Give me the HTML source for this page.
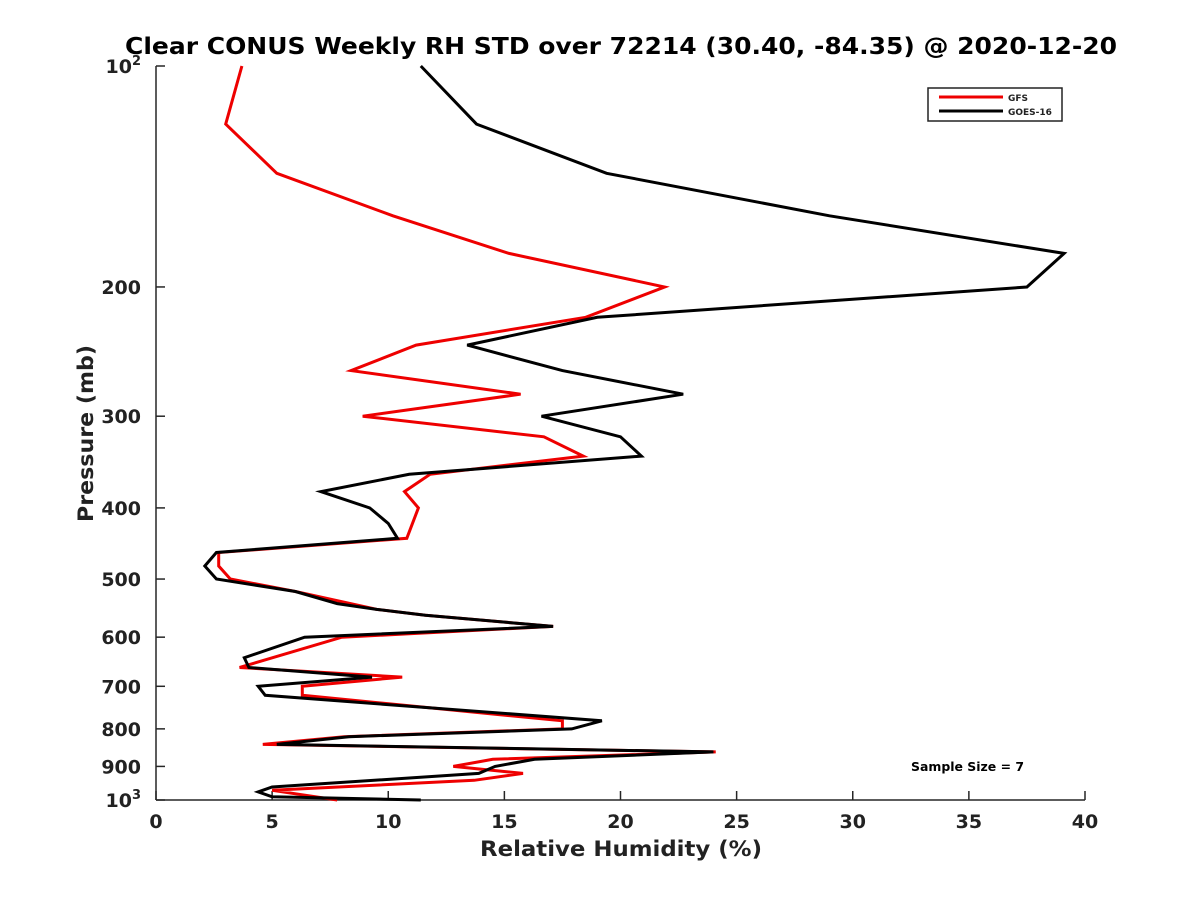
<!DOCTYPE html>
<html><head><meta charset="utf-8"><style>
body{margin:0;background:#fff}
svg text{font-family:"DejaVu Sans","Liberation Sans",sans-serif;font-weight:bold;fill:#222}
</style></head><body>
<svg id="chart" width="1200" height="900" viewBox="0 0 1200 900" xmlns="http://www.w3.org/2000/svg">
<rect width="1200" height="900" fill="#fff"/>
<text x="125" y="54" font-size="23" textLength="992" lengthAdjust="spacingAndGlyphs" style="fill:#000">Clear CONUS Weekly RH STD over 72214 (30.40, -84.35) @ 2020-12-20</text>
<g id="axes"></g>
<g id="series"></g>
<g>
<rect x="928" y="88" width="134" height="33" fill="#fff" stroke="#222" stroke-width="1.5"/>
<line x1="939" y1="97" x2="1003" y2="97" stroke="#e00" stroke-width="3"/>
<text x="1008" y="101" font-size="9">GFS</text>
<line x1="939" y1="111" x2="1003" y2="111" stroke="#000" stroke-width="3"/>
<text x="1008" y="115" font-size="9">GOES-16</text>
</g>
<text x="911" y="771" font-size="12" textLength="113" lengthAdjust="spacingAndGlyphs" style="fill:#000">Sample Size = 7</text>
<text x="480" y="856" font-size="21" textLength="282" lengthAdjust="spacingAndGlyphs">Relative Humidity (%)</text>
<text transform="translate(93,522) rotate(-90)" font-size="21" textLength="177" lengthAdjust="spacingAndGlyphs">Pressure (mb)</text>
</svg>
<script>
const xTicks=[0,5,10,15,20,25,30,35,40];
const yTicks=[200,300,400,500,600,700,800,900];
const gfsP=[100,120,140,160,180,200,220,240,260,280,300,320,340,360,380,400,440,460,480,500,520,550,560,580,600,660,680,700,720,780,800,820,840,860,880,900,920,940,970,1000];
const gfsRH=[3.7,3.0,5.2,10.2,15.2,21.9,18.5,11.2,8.4,15.7,8.9,16.7,18.4,11.8,10.7,11.3,10.8,2.7,2.7,3.2,6.0,9.5,11.6,17.1,8.0,3.6,10.6,6.3,6.3,17.5,17.5,8.1,4.6,24.1,14.5,12.8,15.8,13.7,5.0,7.8];
const goesP=[100,120,140,160,180,200,220,240,260,280,300,320,340,360,380,400,420,440,460,480,500,520,540,550,560,580,600,640,660,680,700,720,780,800,820,840,860,880,900,920,960,975,990,1000];
const goesRH=[11.4,13.8,19.4,29.0,39.1,37.5,19.0,13.4,17.5,22.7,16.6,20.0,20.9,10.9,7.1,9.2,10.0,10.4,2.6,2.1,2.6,6.0,7.8,9.5,11.6,17.1,6.4,3.8,4.0,9.3,4.4,4.7,19.2,17.9,8.3,5.2,24.0,16.3,14.6,13.9,5.0,4.4,5.0,11.4];
const X0=156,X1=1085,Y0=66,Y1=800;
const xs=v=>X0+(v-0)/40*(X1-X0);
const ys=p=>Y0+(Math.log10(p)-2)*(Y1-Y0);
const NS='http://www.w3.org/2000/svg';
function mk(t,a,parent){const e=document.createElementNS(NS,t);for(const k in a)e.setAttribute(k,a[k]);parent.appendChild(e);return e;}
const ax=document.getElementById('axes');
const yl=mk('line',{x1:X0,y1:Y0,x2:X0,y2:Y1,stroke:'#262626','stroke-width':1.5},ax);


const xl=mk('line',{x1:X0,y1:Y1,x2:X1,y2:Y1,stroke:'#262626','stroke-width':1.5},ax);


xTicks.forEach(v=>{const x=xs(v);
mk('line',{x1:x,y1:Y1,x2:x,y2:Y1-9,stroke:'#262626','stroke-width':1.5},ax);
const t=mk('text',{x:x,y:828,'text-anchor':'middle','font-size':19},ax);t.textContent=v;

});
[100,1000].concat(yTicks).forEach(p=>{const y=ys(p);
mk('line',{x1:X0,y1:y,x2:X0+9,y2:y,stroke:'#262626','stroke-width':1.5},ax);
const t=mk('text',{x:141,y:y+7,'text-anchor':'end','font-size':19},ax);
if(p===100){t.innerHTML='10<tspan dy="-8" font-size="13">2</tspan>';}
else if(p===1000){t.innerHTML='10<tspan dy="-8" font-size="13">3</tspan>';}
else t.textContent=p;

});
const sg=document.getElementById('series');
function line(P,V,c,name){const pts=P.map((p,i)=>xs(V[i]).toFixed(1)+','+ys(p).toFixed(1)).join(' ');
const e=mk('polyline',{points:pts,fill:'none',stroke:c,'stroke-width':3,'stroke-linejoin':'miter'},sg);

}
line(gfsP,gfsRH,'#e00','gfs-line');
line(goesP,goesRH,'#000','goes16-line');
</script>
</body></html>
